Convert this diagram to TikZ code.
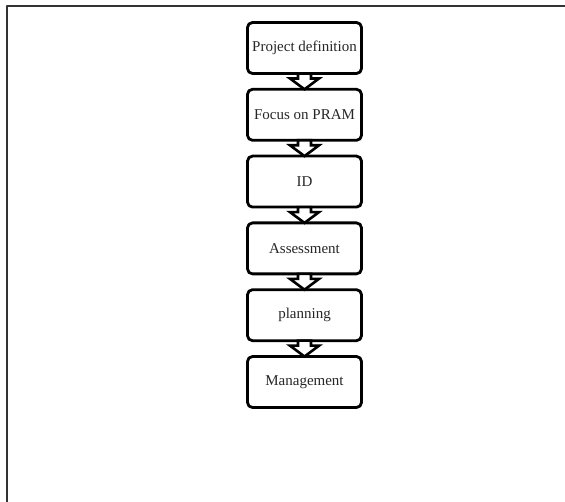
\documentclass[tikz,border=0pt]{standalone}
\usepackage{fontspec}
\setmainfont{Liberation Serif}
\usetikzlibrary{calc}
\tikzset{
  stage/.style={draw, line width=2.8pt, rounded corners=5pt, minimum width=114pt, minimum height=51pt, inner sep=2pt, outer sep=0pt, text=black!85},
  blockarrow/.style={draw, line width=2.6pt, fill=white, line join=miter}
}
\begin{document}
\begin{tikzpicture}[x=1pt, y=-1pt, font=\fontsize{15}{17}\selectfont, line join=round, line cap=round]
		\useasboundingbox (0,0) rectangle (565,502);
		\clip (0,0) rectangle (565,502);
		% outer frame
		\draw[line width=2pt, black!80] (7,6) rectangle (590,530);
		% stages
		\def \xc{304.5} \def \ytop{48} \def \dy{66.8}
		\foreach \t [count=\i] in {Project definition, Focus on PRAM, ID, Assessment, planning, Management}
		\node[stage] (s\i) at (\xc, {\ytop+\dy*(\i-1)}) {\t};
		% hollow arrows between stages
		\foreach \i [evaluate=\i as \j using int(\i+1)] in {1,...,5}
		\draw[blockarrow] ($(s\i.south)+(-6.5,0)$) -- ++(0,5) -- ++(-8,0) -- (s\j.north)
			-- ($(s\i.south)+(14.5,5)$) -- ++(-8,0) -- ($(s\i.south)+(6.5,0)$) -- cycle;
		\end{tikzpicture}
\end{document}
